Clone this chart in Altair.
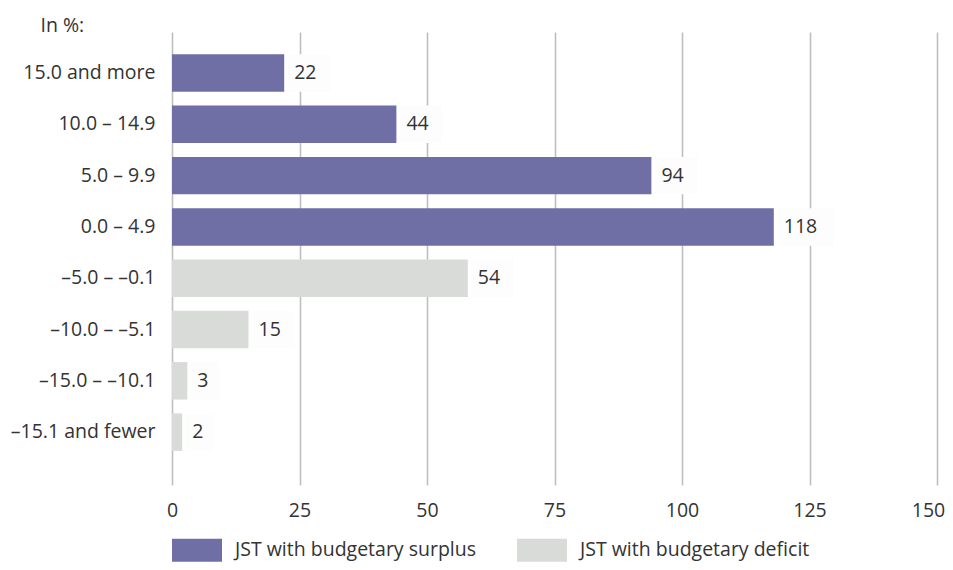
import altair as alt
import pandas as pd

categories = ["15.0 and more", "10.0 – 14.9", "5.0 – 9.9", "0.0 – 4.9",
              "–5.0 – –0.1", "–10.0 – –5.1", "–15.0 – –10.1", "–15.1 and fewer"]
# bar lengths as drawn in the picture
bar_lengths = [22, 44, 94, 118, 58, 15, 3, 2]
# value labels printed next to the bars
value_labels = ["22", "44", "94", "118", "54", "15", "3", "2"]
groups = ["JST with budgetary surplus"] * 4 + ["JST with budgetary deficit"] * 4
group_names = ["JST with budgetary surplus", "JST with budgetary deficit"]
group_colors = ["#6f6fa6", "#d9dbd9"]
x_ticks = [0, 25, 50, 75, 100, 125, 150]

df = pd.DataFrame({"cat": categories, "val": bar_lengths, "lab": value_labels, "grp": groups})

FONT = "Open Sans"
TXT = "#333333"
FS = 19.5

yscale = alt.Scale(domain=categories, paddingInner=0.27, paddingOuter=0.55, align=0.395)
xscale = alt.Scale(domain=[0, 150], nice=False)

yaxis = alt.Axis(title="In %:", titleAngle=0, titleAlign="left", titleBaseline="alphabetic",
                 titleX=-132, titleY=-1, titleFont=FONT, titleFontSize=FS,
                 titleFontWeight="normal", titleColor=TXT,
                 labelFont=FONT, labelFontSize=FS, labelColor=TXT, labelPadding=17,
                 labelLimit=300, ticks=False, domain=False, grid=False)
xaxis = alt.Axis(title=None, values=x_ticks, grid=True, gridColor="#bfbfbf", gridWidth=1.6,
                 ticks=False, domain=False, labelFont=FONT, labelFontSize=FS,
                 labelColor=TXT, labelPadding=16, labelFlush=False,
                 labelOffset={"condition": {"test": "datum.value == 150", "value": -9}, "value": 0})

base = alt.Chart(df)

boxes = base.transform_calculate(
    bx=alt.datum.val + 0.6,
    bx2=alt.datum.val + 3.5 + 2.8 * alt.expr.length(alt.datum.lab)
).mark_bar(color="#fdfdfd").encode(
    y=alt.Y("cat:N", scale=yscale, sort=categories, axis=yaxis),
    x=alt.X("bx:Q", scale=xscale, axis=xaxis),
    x2="bx2:Q",
)

bars = base.mark_bar().encode(
    y=alt.Y("cat:N", scale=yscale, sort=categories, axis=yaxis),
    x=alt.X("val:Q", scale=xscale, axis=xaxis),
    color=alt.Color("grp:N", scale=alt.Scale(domain=group_names, range=group_colors),
                    legend=alt.Legend(title=None, orient="none", legendX=0, legendY=493,
                                      direction="horizontal", columns=2, columnPadding=40,
                                      symbolType="M-1,-0.46L1,-0.46L1,0.46L-1,0.46Z", symbolSize=2500,
                                      symbolStrokeWidth=0, symbolOpacity=1,
                                      labelFont=FONT, labelFontSize=FS, labelColor=TXT,
                                      labelOffset=13, labelLimit=400)),
)

labels = base.mark_text(align="left", baseline="middle", dx=10, font=FONT, fontSize=FS,
                        color=TXT).encode(
    y=alt.Y("cat:N", scale=yscale, sort=categories, axis=yaxis),
    x=alt.X("val:Q", scale=xscale, axis=xaxis),
    text="lab:N",
)

chart = alt.layer(boxes, bars, labels).properties(
    width=765, height=453,
    background="white",
    autosize=alt.AutoSizeParams(type="none"),
    padding={"left": 164, "top": 24, "right": 8, "bottom": 77},
).configure_view(stroke="transparent", strokeWidth=0)

chart.save("out.html", embed_options={"renderer": "svg", "actions": False})
